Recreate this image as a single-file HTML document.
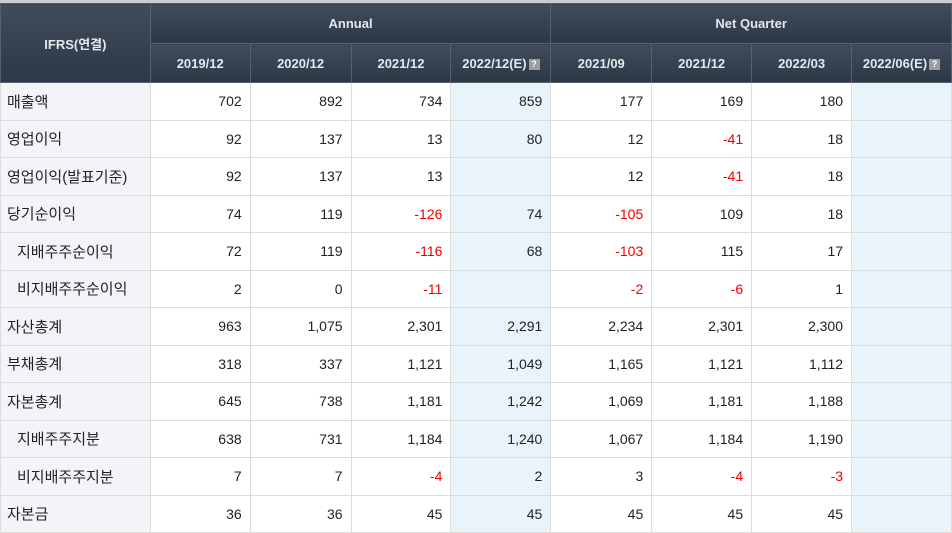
<!DOCTYPE html>
<html><head><meta charset="utf-8"><style>
body{margin:0;width:952px;height:526px;overflow:hidden;background:#fff;font-family:"Liberation Sans","Noto Sans CJK KR",sans-serif}
table{border-collapse:collapse;table-layout:fixed;position:absolute;left:0;top:3px}
th{background:linear-gradient(#404c5b,#2c3846);color:#e4e8ee;font-weight:bold;font-size:13px;border:1px solid #56616f;padding:0}
td{border:1px solid #dcdcdc;font-size:14px;color:#222;padding:0 8px;text-align:right;height:36.5px}
td.l{text-align:left;background:#f2f4f8;padding-left:6px;font-size:15px}
td.l.s{padding-left:16px}
td.e{background:#e8f4fa}
.n{color:#e00}
.q{display:inline-block;width:11px;height:11px;background:#9a9ea4;color:#fff;font-size:9px;line-height:11px;text-align:center;vertical-align:1px;margin-left:2px}
</style></head><body>
<div style="position:absolute;left:0;top:0;width:952px;height:3px;background:#c9ccd0"></div>
<table>
<colgroup><col style="width:150px"><col style="width:100px"><col style="width:101px"><col style="width:100px"><col style="width:100px"><col style="width:101px"><col style="width:100px"><col style="width:100px"><col style="width:100px"></colgroup>
<tr style="height:40px"><th rowspan="2">IFRS(연결)</th><th colspan="4">Annual</th><th colspan="4">Net Quarter</th></tr>
<tr style="height:39px"><th>2019/12</th><th>2020/12</th><th>2021/12</th><th>2022/12(E)<span class="q">?</span></th><th>2021/09</th><th>2021/12</th><th>2022/03</th><th>2022/06(E)<span class="q">?</span></th></tr>
<tr><td class="l">매출액</td><td>702</td><td>892</td><td>734</td><td class="e">859</td><td>177</td><td>169</td><td>180</td><td class="e"></td></tr>
<tr><td class="l">영업이익</td><td>92</td><td>137</td><td>13</td><td class="e">80</td><td>12</td><td class="n">-41</td><td>18</td><td class="e"></td></tr>
<tr><td class="l">영업이익(발표기준)</td><td>92</td><td>137</td><td>13</td><td class="e"></td><td>12</td><td class="n">-41</td><td>18</td><td class="e"></td></tr>
<tr><td class="l">당기순이익</td><td>74</td><td>119</td><td class="n">-126</td><td class="e">74</td><td class="n">-105</td><td>109</td><td>18</td><td class="e"></td></tr>
<tr><td class="l s">지배주주순이익</td><td>72</td><td>119</td><td class="n">-116</td><td class="e">68</td><td class="n">-103</td><td>115</td><td>17</td><td class="e"></td></tr>
<tr><td class="l s">비지배주주순이익</td><td>2</td><td>0</td><td class="n">-11</td><td class="e"></td><td class="n">-2</td><td class="n">-6</td><td>1</td><td class="e"></td></tr>
<tr><td class="l">자산총계</td><td>963</td><td>1,075</td><td>2,301</td><td class="e">2,291</td><td>2,234</td><td>2,301</td><td>2,300</td><td class="e"></td></tr>
<tr><td class="l">부채총계</td><td>318</td><td>337</td><td>1,121</td><td class="e">1,049</td><td>1,165</td><td>1,121</td><td>1,112</td><td class="e"></td></tr>
<tr><td class="l">자본총계</td><td>645</td><td>738</td><td>1,181</td><td class="e">1,242</td><td>1,069</td><td>1,181</td><td>1,188</td><td class="e"></td></tr>
<tr><td class="l s">지배주주지분</td><td>638</td><td>731</td><td>1,184</td><td class="e">1,240</td><td>1,067</td><td>1,184</td><td>1,190</td><td class="e"></td></tr>
<tr><td class="l s">비지배주주지분</td><td>7</td><td>7</td><td class="n">-4</td><td class="e">2</td><td>3</td><td class="n">-4</td><td class="n">-3</td><td class="e"></td></tr>
<tr><td class="l">자본금</td><td>36</td><td>36</td><td>45</td><td class="e">45</td><td>45</td><td>45</td><td>45</td><td class="e"></td></tr>
</table>
</body></html>
